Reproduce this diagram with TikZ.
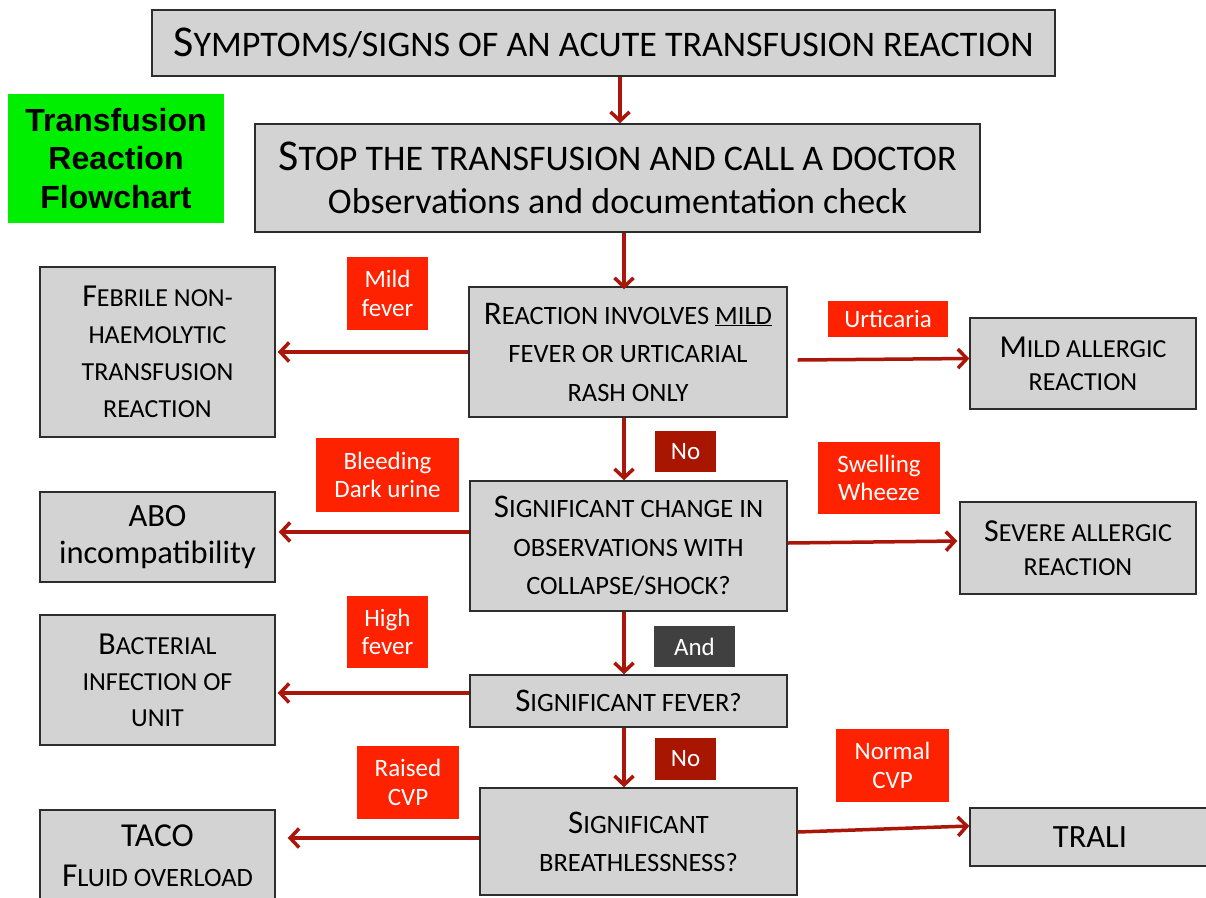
\documentclass[tikz,border=0pt]{standalone}
\usepackage{fontspec}
\setmainfont{Carlito}
\newfontfamily\arialb{Liberation Sans}
\usetikzlibrary{arrows.meta,calc}
\definecolor{boxgray}{RGB}{211,211,211}
\definecolor{boxline}{RGB}{45,45,45}
\definecolor{arrred}{RGB}{170,22,10}
\definecolor{lblred}{RGB}{255,34,0}
\definecolor{lbldark}{RGB}{168,21,0}
\definecolor{lblgray}{RGB}{64,64,64}
\definecolor{titlegreen}{RGB}{0,238,0}
\newcommand\csz{24pt}
\newcommand\C[1]{{\fontsize{\csz}{\csz}\selectfont #1}}
\tikzset{
  gbox/.style={draw=boxline, line width=1.4pt, fill=boxgray, align=center, inner sep=0pt, text=black},
  lbl/.style={fill=lblred, text=white, align=center, inner sep=0pt, font=\fontsize{25pt}{28.5pt}\selectfont},
  arr/.style={draw=arrred, line width=3.5pt, -{Straight Barb[length=9pt,width=19pt]}},
}
\begin{document}
\begin{tikzpicture}[x=1pt,y=-1pt]
\useasboundingbox (0,0) rectangle (1206,897);
% title
\node[fill=titlegreen, minimum width=216pt, minimum height=129pt, align=center, inner sep=0pt,
  font=\arialb\bfseries\fontsize{32pt}{38.5pt}\selectfont] (title) at (116,158.5) {Transfusion\\Reaction\\Flowchart};
% main chain
\node[gbox, minimum width=903pt, minimum height=66pt, font=\fontsize{36pt}{40pt}\selectfont\def\csz{44pt}] (top) at (603.5,43)
  {\C{S}YMPTOMS/SIGNS OF AN ACUTE TRANSFUSION REACTION};
\node[gbox, minimum width=725pt, minimum height=108pt, font=\fontsize{36pt}{43pt}\selectfont\def\csz{44pt}] (stop) at (617.5,178)
  {\C{S}TOP THE TRANSFUSION AND CALL A DOCTOR\\{\fontsize{36pt}{43pt}\selectfont Observations and documentation check}};
\node[gbox, minimum width=318pt, minimum height=130pt, font=\fontsize{26.5pt}{38.5pt}\selectfont\def\csz{33pt}] (reaction) at (628,352)
  {\C{R}EACTION INVOLVES \underline{MILD}\\FEVER OR URTICARIAL\\RASH ONLY};
\node[gbox, minimum width=317pt, minimum height=130pt, font=\fontsize{26.5pt}{38.5pt}\selectfont\def\csz{33pt}] (sig) at (628.5,546)
  {\C{S}IGNIFICANT CHANGE IN\\OBSERVATIONS WITH\\COLLAPSE/SHOCK?};
\node[gbox, minimum width=317pt, minimum height=52pt, font=\fontsize{26.5pt}{38.5pt}\selectfont\def\csz{33pt}] (fever) at (628.5,701)
  {\C{S}IGNIFICANT FEVER?};
\node[gbox, minimum width=317pt, minimum height=107pt, font=\fontsize{26.5pt}{38pt}\selectfont\def\csz{33pt}] (breath) at (638.5,841.5)
  {\C{S}IGNIFICANT\\BREATHLESSNESS?};
% outcomes left
\node[gbox, minimum width=235pt, minimum height=170pt, font=\fontsize{26pt}{37pt}\selectfont\def\csz{32pt}] (febrile) at (157.5,352)
  {\C{F}EBRILE NON-\\HAEMOLYTIC\\TRANSFUSION\\REACTION};
\node[gbox, minimum width=235pt, minimum height=90pt, font=\fontsize{32.5pt}{37pt}\selectfont] (abo) at (157.5,537)
  {ABO\\incompatibility};
\node[gbox, minimum width=235pt, minimum height=130pt, font=\fontsize{26pt}{36pt}\selectfont\def\csz{32pt}] (bact) at (157.5,680)
  {\C{B}ACTERIAL\\INFECTION OF\\UNIT};
\node[gbox, minimum width=235pt, minimum height=92pt, font=\fontsize{26.5pt}{40pt}\selectfont\def\csz{33.5pt}] (taco) at (157.5,856)
  {\C{TACO}\\\C{F}LUID OVERLOAD};
% outcomes right
\node[gbox, minimum width=226pt, minimum height=91pt, font=\fontsize{26pt}{33pt}\selectfont\def\csz{32pt}] (mildall) at (1083,363.5)
  {\C{M}ILD ALLERGIC\\REACTION};
\node[gbox, minimum width=236pt, minimum height=92pt, font=\fontsize{26pt}{34pt}\selectfont\def\csz{32pt}] (severe) at (1078,548)
  {\C{S}EVERE ALLERGIC\\REACTION};
\node[gbox, minimum width=240pt, minimum height=58pt, font=\fontsize{32.5pt}{34pt}\selectfont] (trali) at (1090,837)
  {TRALI};
% labels
\node[lbl, minimum width=81pt, minimum height=73pt] (lmild) at (387.5,293.5) {Mild\\fever};
\node[lbl, minimum width=120pt, minimum height=36pt] (lurt) at (888,319) {Urticaria};
\node[lbl, fill=lbldark, minimum width=61pt, minimum height=41pt] (lno1) at (685.5,451.5) {No};
\node[lbl, minimum width=143pt, minimum height=74pt] (lbleed) at (387.5,475) {Bleeding\\Dark urine};
\node[lbl, minimum width=122pt, minimum height=72pt] (lswell) at (879,478) {Swelling\\Wheeze};
\node[lbl, fill=lblgray, minimum width=81pt, minimum height=41pt] (land) at (694.5,646.5) {And};
\node[lbl, minimum width=81pt, minimum height=72pt] (lhigh) at (387.5,632) {High\\fever};
\node[lbl, fill=lbldark, minimum width=61pt, minimum height=42pt] (lno2) at (685.5,759) {No};
\node[lbl, minimum width=102pt, minimum height=73pt] (lraised) at (408,782.5) {Raised\\CVP};
\node[lbl, minimum width=113pt, minimum height=73pt] (lnormal) at (892.5,765.5) {Normal\\CVP};
% arrows
\coordinate (ca) at (620,0);
\coordinate (cb) at (624,0);
\draw[arr] (top.south -| ca) -- (stop.north -| ca);
\draw[arr] (stop.south -| cb) -- ([yshift=-3pt]reaction.north -| cb);
\draw[arr] (reaction.south -| cb) -- (sig.north -| cb);
\draw[arr] (sig.south -| cb) -- (fever.north -| cb);
\draw[arr] (fever.south -| cb) -- (breath.north -| cb);
\draw[arr] (reaction.west) -- ([xshift=2pt]febrile.east);
\draw[arr] ([shift={(10,8)}]reaction.east) -- ([yshift=5pt]mildall.west);
\draw[arr] ([yshift=14pt]sig.west) -- ([shift={(3,-5)}]abo.east);
\draw[arr] ([yshift=3pt]sig.east) -- ([shift={(-2,-7)}]severe.west);
\draw[arr] ([yshift=8pt]fever.west) -- ([shift={(2,13)}]bact.east);
\draw[arr] ([yshift=3.5pt]breath.west) -- ([shift={(12,-18)}]taco.east);
\draw[arr] ([yshift=9.5pt]breath.east) -- ([yshift=11pt]trali.west);
\end{tikzpicture}
\end{document}
